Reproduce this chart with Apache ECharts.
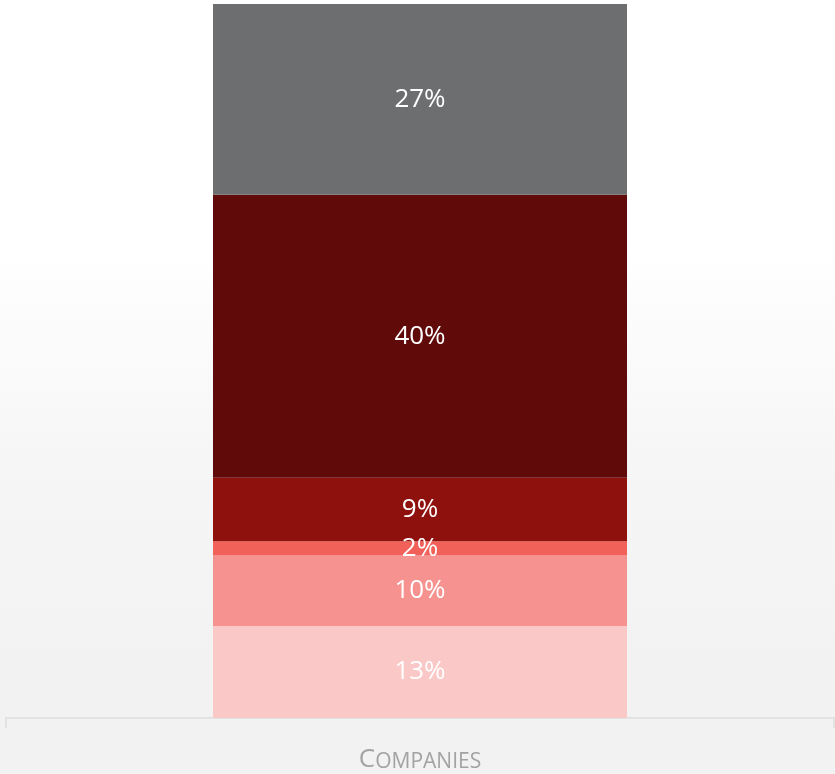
<!DOCTYPE html>
<html>
<head>
<meta charset="utf-8">
<style>
  html, body { margin: 0; padding: 0; }
  #chart {
    width: 835px; height: 774px;
    background: linear-gradient(to bottom, #ffffff 0%, #ffffff 32%, #f6f6f6 60%, #f2f2f2 85%, #f2f2f2 100%);
  }
</style>
<script src="https://cdn.jsdelivr.net/npm/echarts@6/dist/echarts.min.js"></script>
</head>
<body>
<div id="chart"></div>
<script>
// Single stacked column: share of companies per group (bottom to top)
const categories = ['Companies'];
const segmentNames = ['Group 1', 'Group 2', 'Group 3', 'Group 4', 'Group 5', 'Group 6'];
const segmentValues = [13, 10, 2, 9, 40, 27];
const segmentColors = ['#fac8c7', '#f6928f', '#f2605a', '#8f110d', '#600b0a', '#6d6e70'];

const total = segmentValues.reduce((a, b) => a + b, 0);

const chart = echarts.init(document.getElementById('chart'), null, { renderer: 'canvas' });

const series = segmentValues.map((v, i) => ({
  name: segmentNames[i],
  type: 'bar',
  stack: 'share',
  barWidth: '50%',
  data: [v],
  itemStyle: { color: segmentColors[i] },
  label: {
    show: true,
    position: 'inside',
    formatter: '{c}%',
    color: '#ffffff',
    fontFamily: 'Open Sans',
    fontSize: 26
  },
  emphasis: { disabled: true }
}));

chart.setOption({
  backgroundColor: 'transparent',
  animation: false,
  grid: { left: 6, right: 1, top: 4, bottom: 56, containLabel: false },
  xAxis: {
    type: 'category',
    data: categories,
    boundaryGap: true,
    axisLine: { show: true, lineStyle: { color: '#e2e2e2', width: 2 } },
    axisTick: { show: true, length: 10, lineStyle: { color: '#e2e2e2', width: 2 } },
    axisLabel: {
      margin: 29,
      formatter: v => '{a|' + v.charAt(0).toUpperCase() + '}{b|' + v.slice(1).toUpperCase() + '}',
      rich: {
        a: { fontFamily: 'Open Sans', fontSize: 26, color: '#a3a3a3', verticalAlign: 'bottom' },
        b: { fontFamily: 'Open Sans', fontSize: 21, color: '#a3a3a3', verticalAlign: 'bottom' }
      }
    }
  },
  yAxis: {
    type: 'value',
    min: 0,
    max: total,
    show: false,
    splitLine: { show: false }
  },
  series: series
});
</script>
</body>
</html>
